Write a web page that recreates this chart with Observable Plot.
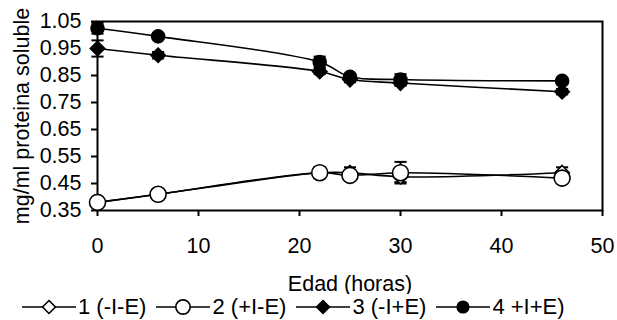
<!DOCTYPE html>
<html><head><meta charset="utf-8">
<script src="https://cdn.jsdelivr.net/npm/d3@7"></script>
<script src="https://cdn.jsdelivr.net/npm/@observablehq/plot@0.6"></script>
<style>
body{margin:0;background:#fff;font-family:"Liberation Sans",Arial,sans-serif;}
#legend{display:flex;align-items:center;height:26px;padding-left:22px;font-size:22px;color:#000;white-space:nowrap}
.item{display:flex;align-items:center;margin-right:10px}
.item svg{display:block}
</style></head><body><div id="chart"></div><div id="legend"></div>
<script>
const hours = [0, 6, 22, 25, 30, 46];
const seriesNames = ["1 (-I-E)", "2 (+I-E)", "3 (-I+E)", "4 +I+E)"];
const s1 = [0.38, 0.41, 0.49, 0.49, 0.475, 0.49];
const s2 = [0.38, 0.41, 0.49, 0.48, 0.49, 0.47];
const s3 = [0.95, 0.925, 0.865, 0.835, 0.822, 0.79];
const s4 = [1.025, 0.995, 0.90, 0.845, 0.835, 0.83];
const e1 = [0.01, 0.01, 0.02, 0.02, 0.02, 0.02];
const e2 = [0.01, 0.01, 0.02, 0.01, 0.04, 0.01];
const e3 = [0.03, 0.012, 0.01, 0.01, 0.01, 0.01];
const e4 = [0.02, 0.01, 0.02, 0.01, 0.02, 0.01];
const xTicks = [0, 10, 20, 30, 40, 50];
const yTicks = [0.35, 0.45, 0.55, 0.65, 0.75, 0.85, 0.95, 1.05];
const symbols = ["diamond2", "circle", "diamond2", "circle"];
const fills = ["white", "white", "black", "black"];
const radii = [6.5, 8, 6.5, 6.5];

const vals = [s1, s2, s3, s4];
const errs = [e1, e2, e3, e4];
const rows = [];
seriesNames.forEach((name, i) => {
  hours.forEach((h, j) => rows.push({series: name, idx: i, hour: h, value: vals[i][j], err: errs[i][j]}));
});

const marks = [
  Plot.frame({stroke: "black", strokeWidth: 2}),
  Plot.axisX({ticks: xTicks, tickSize: 6, tickPadding: 21, strokeWidth: 2, fontSize: 21.5,
    label: "Edad (horas)", labelAnchor: "center", labelOffset: 80, labelArrow: "none"}),
  Plot.axisY({ticks: yTicks, tickFormat: d3.format(".2f"), tickSize: 6, tickPadding: 10, strokeWidth: 2, fontSize: 21.5,
    label: "mg/ml proteina soluble", labelAnchor: "center", labelOffset: 84, labelArrow: "none"}),
  Plot.line(rows, {x: "hour", y: "value", z: "series", curve: "catmull-rom", stroke: "black", strokeWidth: 1.6}),
  Plot.ruleX(rows, {x: "hour", y1: d => d.value - d.err, y2: d => d.value + d.err, stroke: "black", strokeWidth: 2}),
  Plot.link(rows, {x1: d => d.hour - 0.6, x2: d => d.hour + 0.6, y1: d => d.value - d.err, y2: d => d.value - d.err, stroke: "black", strokeWidth: 2}),
  Plot.link(rows, {x1: d => d.hour - 0.6, x2: d => d.hour + 0.6, y1: d => d.value + d.err, y2: d => d.value + d.err, stroke: "black", strokeWidth: 2})
];
seriesNames.forEach((name, i) => {
  marks.push(Plot.dot(rows.filter(d => d.idx === i), {x: "hour", y: "value", symbol: () => symbols[i],
    fill: fills[i], stroke: "black", strokeWidth: 1.6, r: radii[i]}));
});

const chart = Plot.plot({
  width: 617, height: 294,
  marginLeft: 97, marginRight: 15, marginTop: 21, marginBottom: 84,
  style: {fontSize: "21.5px", fontFamily: "'Liberation Sans', Arial, sans-serif", color: "black", background: "white"},
  x: {domain: [0, 50]},
  y: {domain: [0.35, 1.05]},
  symbol: {type: "identity"},
  marks
});
document.getElementById("chart").appendChild(chart);

// legend
const legend = document.getElementById("legend");
seriesNames.forEach((name, i) => {
  const item = document.createElement("div");
  item.className = "item";
  const sym = d3.symbol(symbols[i] === "circle" ? d3.symbolCircle : d3.symbolDiamond2, Math.PI * radii[i] * radii[i] * 0.8)();
  item.innerHTML = `<svg width="56" height="20"><line x1="0" x2="54" y1="10" y2="10" stroke="black" stroke-width="1.6"/>` +
    `<path d="${sym}" transform="translate(27,10)" fill="${fills[i]}" stroke="black" stroke-width="1.6"/></svg><span>${name}</span>`;
  legend.appendChild(item);
});
</script></body></html>
